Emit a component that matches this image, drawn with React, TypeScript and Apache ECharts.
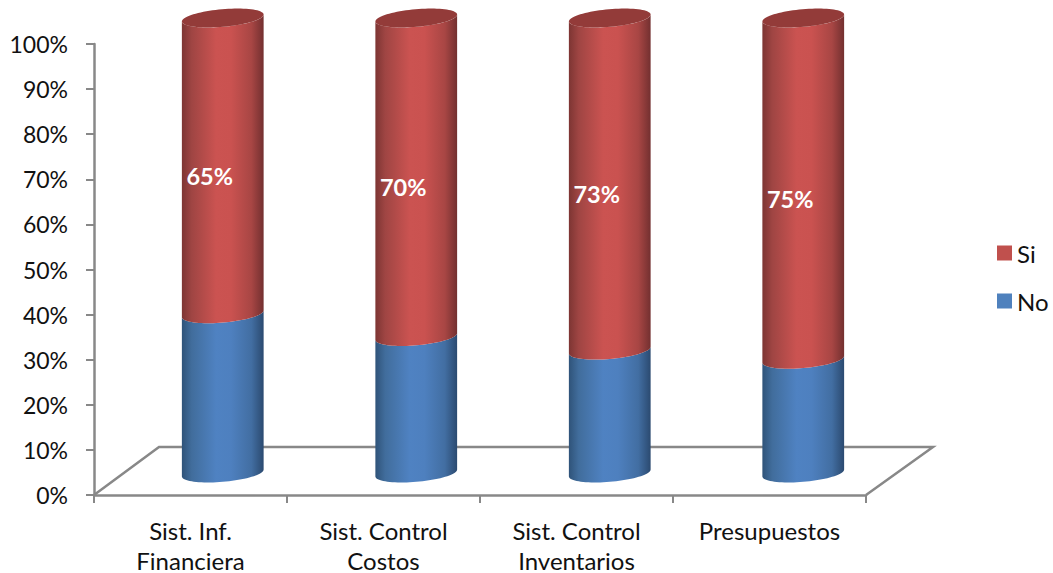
import React, { useEffect, useRef } from "react";
import * as echarts from "echarts";

const categories = ["Sist. Inf.\nFinanciera", "Sist. Control\nCostos", "Sist. Control\nInventarios", "Presupuestos"];
const noValues = [35, 30, 27, 25];
const siValues = [65, 70, 73, 75];
const yTicks = { min: 0, max: 100, interval: 10 };

const FONT = "Lato, 'Open Sans', sans-serif";
const AXIS_GREY = "#888888";
const TEXT = "#111111";
const RED = "#c0504d";
const BLUE = "#4f81bd";
const CAP_RED = "#933b39";

const redShade = [
  { offset: 0, color: "#7d3533" },
  { offset: 0.12, color: "#9f4543" },
  { offset: 0.42, color: "#cb5351" },
  { offset: 0.6, color: "#ca5250" },
  { offset: 0.85, color: "#a84644" },
  { offset: 1, color: "#733030" },
];
const blueShade = [
  { offset: 0, color: "#2f5379" },
  { offset: 0.12, color: "#416d9c" },
  { offset: 0.42, color: "#4f82c2" },
  { offset: 0.6, color: "#4e80bf" },
  { offset: 0.85, color: "#426ea2" },
  { offset: 1, color: "#2b4a70" },
];

// Cylinder geometry: share of the category band, tilt and minor radius of the elliptical rims.
const BAND_SHARE = 0.424;
const RIM_TILT = (-5 * Math.PI) / 180;
const RIM_MINOR = 8.8;

function rimPoint(cx: number, cy: number, a: number, t: number): number[] {
  const cos = Math.cos(RIM_TILT);
  const sin = Math.sin(RIM_TILT);
  return [
    cx + a * Math.cos(t) * cos - RIM_MINOR * Math.sin(t) * sin,
    cy + a * Math.cos(t) * sin + RIM_MINOR * Math.sin(t) * cos,
  ];
}

// Points of the front half of a rim, running from its right silhouette point to its left one.
function frontArc(cx: number, cy: number, a: number): number[][] {
  const start = Math.atan((RIM_MINOR * Math.tan(-RIM_TILT)) / a);
  const pts: number[][] = [];
  for (let k = 0; k <= 40; k++) pts.push(rimPoint(cx, cy, a, start + (Math.PI * k) / 40));
  return pts;
}

function fullRim(cx: number, cy: number, a: number): number[][] {
  const pts: number[][] = [];
  for (let k = 0; k < 80; k++) pts.push(rimPoint(cx, cy, a, (2 * Math.PI * k) / 80));
  return pts;
}

function cylinderItem(shade: typeof redShade, withCap: boolean) {
  return (params: any, api: any) => {
    const idx = api.value(0);
    const [cx, yLow] = api.coord([idx, api.value(1)]);
    const [, yHigh] = api.coord([idx, api.value(2)]);
    const halfWidth = (api.size([1, 0])[0] * BAND_SHARE) / 2;
    const lower = frontArc(cx, yLow, halfWidth);
    const upper = frontArc(cx, yHigh, halfWidth).reverse();
    const children: any[] = [
      {
        type: "polygon",
        shape: { points: lower.concat(upper) },
        style: { fill: new echarts.graphic.LinearGradient(0, 0, 1, 0, shade) },
      },
    ];
    if (withCap) {
      children.push({
        type: "polygon",
        shape: { points: fullRim(cx, yHigh, halfWidth) },
        style: { fill: CAP_RED },
      });
      const [, yMid] = api.coord([idx, (api.value(1) + api.value(2)) / 2]);
      children.push({
        type: "text",
        x: cx - 13,
        y: yMid + 10,
        style: {
          text: `${siValues[idx]}%`,
          fill: "#ffffff",
          font: `bold 23.5px ${FONT}`,
          textAlign: "center",
          textVerticalAlign: "middle",
        },
      });
    }
    return { type: "group", children };
  };
}

// Perspective floor running back from the category axis.
function floorItem(params: any, api: any) {
  const { x, y, width, height } = params.coordSys;
  const base = y + height;
  return {
    type: "polyline",
    shape: {
      points: [
        [x, base],
        [x + 65, base - 48],
        [x + width + 67, base - 48],
        [x + width, base],
      ],
    },
    style: { fill: "none", stroke: AXIS_GREY, lineWidth: 2.5 },
  };
}

const axisLine = { show: true, lineStyle: { color: AXIS_GREY, width: 2.5 } };
const axisTick = { show: true, length: 8, lineStyle: { color: AXIS_GREY, width: 2 } };

export default function App() {
  const ref = useRef<HTMLDivElement>(null);

  useEffect(() => {
    const chart = echarts.init(ref.current!, undefined, { renderer: "svg" });
    chart.setOption({
      animation: false,
      backgroundColor: "#ffffff",
      legend: {
        data: ["Si", "No"],
        orient: "vertical",
        left: 997,
        top: 241,
        padding: 0,
        itemWidth: 15,
        itemHeight: 15,
        itemGap: 24,
        selectedMode: false,
        icon: "rect",
        textStyle: { color: TEXT, fontFamily: FONT, fontSize: 24 },
      },
      grid: [
        // Axes and floor
        { left: 94, width: 772, top: 44, height: 451, outerBoundsMode: "none" },
        // Plane the cylinders stand on, set back from the axes
        { left: 126, width: 774, top: 18, height: 455, outerBoundsMode: "none" },
      ],
      xAxis: [
        {
          type: "category",
          gridIndex: 0,
          data: categories,
          axisLine,
          axisTick,
          axisLabel: { color: TEXT, fontFamily: FONT, fontSize: 24, margin: 20, lineHeight: 30, interval: 0 },
        },
        { type: "category", gridIndex: 1, data: categories, show: false },
      ],
      yAxis: [
        {
          type: "value",
          gridIndex: 0,
          ...yTicks,
          axisLine,
          axisTick,
          splitLine: { show: false },
          axisLabel: { color: TEXT, fontFamily: FONT, fontSize: 23, margin: 26, formatter: "{value}%" },
        },
        { type: "value", gridIndex: 1, ...yTicks, show: false, splitLine: { show: false } },
      ],
      series: [
        {
          type: "custom",
          name: "floor",
          xAxisIndex: 0,
          yAxisIndex: 0,
          z: 1,
          silent: true,
          clip: false,
          renderItem: floorItem,
          data: [[0, 0]],
        },
        {
          type: "custom",
          name: "No",
          xAxisIndex: 1,
          yAxisIndex: 1,
          z: 2,
          clip: false,
          itemStyle: { color: BLUE },
          renderItem: cylinderItem(blueShade, false),
          encode: { x: 0, y: [1, 2] },
          data: noValues.map((v, i) => [i, 0, v]),
        },
        {
          type: "custom",
          name: "Si",
          xAxisIndex: 1,
          yAxisIndex: 1,
          z: 3,
          clip: false,
          itemStyle: { color: RED },
          renderItem: cylinderItem(redShade, true),
          encode: { x: 0, y: [1, 2] },
          data: siValues.map((v, i) => [i, noValues[i], noValues[i] + v]),
        },
      ],
    });
    return () => chart.dispose();
  }, []);

  return <div ref={ref} style={{ position: "fixed", left: 0, top: 0, width: 1053, height: 573 }} />;
}
